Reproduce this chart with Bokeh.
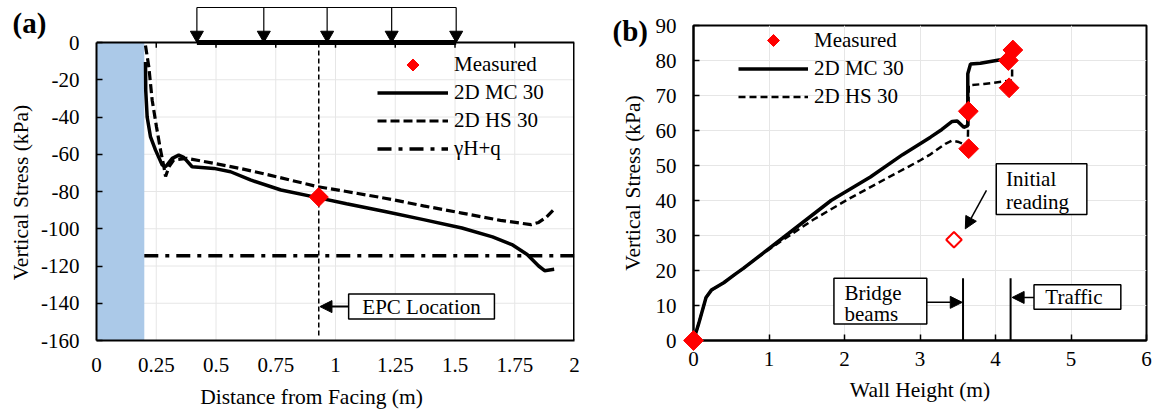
import numpy as np
from bokeh.plotting import figure
from bokeh.layouts import row
from bokeh.models import (Range1d, Legend, LegendItem, Arrow, NormalHead, FixedTicker)
from bokeh.core.properties import value
from bokeh.embed import file_html
from bokeh.resources import INLINE

FONT = "Liberation Serif, serif"
FONT_V = value(FONT)

# ---------------- data: panel (a) ----------------
x_ticks_a = [0, 0.25, 0.5, 0.75, 1, 1.25, 1.5, 1.75, 2]
x_tick_labels_a = ["0", "0.25", "0.5", "0.75", "1", "1.25", "1.5", "1.75", "2"]
y_ticks_a = [-160, -140, -120, -100, -80, -60, -40, -20, 0]
y_tick_labels_a = ["-160", "-140", "-120", "-100", "-80", "-60", "-40", "-20", "0"]

mc_a_x = [0.205, 0.206, 0.212, 0.226, 0.247, 0.275, 0.289, 0.317, 0.344, 0.365, 0.400,
          0.491, 0.561, 0.644, 0.772, 0.925, 1.046, 1.207, 1.368, 1.529, 1.657, 1.738,
          1.802, 1.850, 1.875, 1.915]
mc_a_y = [-10.5, -25.7, -40.0, -50.7, -57.8, -65.8, -66.7, -62.2, -60.5, -61.7, -66.7,
          -67.6, -69.4, -73.8, -79.2, -83.3, -86.6, -90.7, -95.1, -99.6, -104.4, -108.5,
          -113.8, -120.0, -122.5, -121.8]
hs_a_x = [0.205, 0.219, 0.233, 0.251, 0.268, 0.282, 0.289, 0.303, 0.323, 0.379, 0.491,
          0.600, 0.724, 0.925, 1.046, 1.207, 1.368, 1.529, 1.690, 1.818, 1.850, 1.883, 1.915]
hs_a_y = [-1.6, -13.2, -31.0, -45.3, -57.8, -66.7, -72.0, -66.7, -63.1, -62.2, -64.9,
          -67.6, -71.2, -77.4, -80.0, -83.6, -87.7, -91.6, -95.5, -97.8, -96.6, -93.7, -89.5]
meas_a_x = [0.93]
meas_a_y = [-83.0]
gamma_x = [0.2, 2.0]
gamma_y = [-114.5, -114.5]
wall_x = [0.0, 0.2]
epc_x = 0.93
load_x = [0.42, 0.70, 0.965, 1.235, 1.505]

# ---------------- data: panel (b) ----------------
x_ticks_b = [0, 1, 2, 3, 4, 5, 6]
y_ticks_b = [0, 10, 20, 30, 40, 50, 60, 70, 80, 90]

mc_b_x = [0.0, 0.07, 0.166, 0.237, 0.40, 0.544, 0.66, 0.828, 1.254, 1.822, 2.343, 2.769,
          3.139, 3.29, 3.426, 3.493, 3.58, 3.633, 3.633, 3.669, 3.80, 4.066, 4.22]
mc_b_y = [0.0, 4.9, 12.3, 14.4, 16.5, 18.8, 20.6, 23.4, 30.5, 40.0, 46.7, 53.1,
          58.1, 60.3, 62.6, 62.7, 60.9, 61.4, 76.2, 79.0, 79.2, 80.2, 81.0]
hs_b_x = [0.0, 0.07, 0.166, 0.237, 0.40, 0.544, 0.66, 0.828, 1.065, 1.585, 2.06, 2.53,
          3.005, 3.139, 3.336, 3.426, 3.514, 3.633, 3.646, 3.846, 4.22, 4.22]
hs_b_y = [0.0, 4.9, 12.3, 14.4, 16.5, 18.8, 20.6, 23.4, 27.0, 34.5, 40.5, 46.0,
          51.5, 53.2, 56.2, 57.1, 56.7, 55.7, 72.9, 73.3, 74.3, 78.1]
meas_b_x = [0.0, 3.64, 3.645, 4.17, 4.23, 4.18]
meas_b_y = [0.0, 65.5, 54.8, 80.0, 83.0, 72.2]
init_x = [3.45]
init_y = [28.8]
bridge_x = 3.57
traffic_x = 4.20
marker_top = 17.8

# ---------------- layout constants ----------------
BORDER_TOP, BORDER_BOTTOM, HEIGHT = 25, 74, 414
FRAME_BOTTOM = HEIGHT - BORDER_BOTTOM                   # 340
A_LEFT, A_PX_X = 96, 239.0                             # (a) frame left px, px per metre
A_ZERO_PX = 42                                         # screen y of the value 0 in (a)
A_PX_PER_UNIT = (FRAME_BOTTOM - A_ZERO_PX) / 160.0
A_TOP = (A_ZERO_PX - BORDER_TOP) / A_PX_PER_UNIT
B_LEFT, B_PX_X, B_PX_Y = 693, 75.5, 3.5


def ax_(px):      # screen x -> data x in (a)
    return (px - A_LEFT) / A_PX_X


def ay_(py):      # screen y -> data y in (a)
    return (A_ZERO_PX - py) / A_PX_PER_UNIT


def style_axis(ax, label):
    ax.axis_label = label
    ax.axis_label_text_font = FONT
    ax.axis_label_text_font_size = "21.5px"
    ax.axis_label_text_font_style = "normal"
    ax.axis_label_text_color = "black"
    ax.major_label_text_font = FONT
    ax.major_label_text_font_size = "21px"
    ax.major_label_text_color = "black"
    ax.axis_line_color = "black"
    ax.axis_line_width = 2
    ax.major_tick_line_color = "black"
    ax.major_tick_line_width = 1.5
    ax.minor_tick_line_color = None


def text(p, x, y, s, align="left", size="21px", style="normal", level="glyph", angle=0.0):
    p.text(x=[x], y=[y], text=[s], text_font=FONT_V, text_font_size=size,
           text_align=align, text_baseline="middle", text_color="black",
           text_font_style=style, level=level, angle=angle)


def make_legend(p, items, loc, w):
    leg = Legend(items=items, location=loc, glyph_width=w, glyph_height=27, label_height=27,
                 spacing=1, padding=0, margin=0, label_standoff=6,
                 border_line_color=None, background_fill_alpha=0,
                 label_text_font=FONT, label_text_font_size="21px", label_text_color="black")
    p.add_layout(leg)


# ================= panel (a) =================
pa = figure(width=593, height=HEIGHT, x_range=Range1d(0, 2.0), y_range=Range1d(-160, A_TOP),
            output_backend="svg", toolbar_location=None, title=None,
            min_border_left=A_LEFT, min_border_right=19, min_border_top=BORDER_TOP,
            min_border_bottom=BORDER_BOTTOM)
pa.outline_line_color = None
pa.grid.visible = False

gx = x_ticks_a[1:-1]
gy = y_ticks_a[1:-1]
pa.segment(x0=gx, y0=[y_ticks_a[0]] * len(gx), x1=gx, y1=[y_ticks_a[-1]] * len(gx),
           line_color="#e6e6e6", line_width=1)
pa.segment(x0=[x_ticks_a[0]] * len(gy), y0=gy, x1=[x_ticks_a[-1]] * len(gy), y1=gy,
           line_color="#e6e6e6", line_width=1)

pa.quad(left=[wall_x[0]], right=[wall_x[1]], bottom=[y_ticks_a[0]], top=[y_ticks_a[-1]],
        fill_color="#abc9e8", line_color=None)

pa.line([x_ticks_a[-1], x_ticks_a[-1]], [y_ticks_a[0], y_ticks_a[-1]], line_color="black", line_width=3)
pa.line([x_ticks_a[0], x_ticks_a[-1]], [y_ticks_a[-1], y_ticks_a[-1]], line_color="black", line_width=2)
pa.segment(x0=gx, y0=[0] * len(gx), x1=gx, y1=[-2.8] * len(gx), line_color="black", line_width=1.5)

r_gamma = pa.line(gamma_x, gamma_y, line_color="black", line_width=3.5, line_dash="14 7 4 7")
pa.line([epc_x, epc_x], [0, -158], line_color="black", line_width=1.5, line_dash="5 3")
r_hs_a = pa.line(hs_a_x, hs_a_y, line_color="black", line_width=3.2, line_dash="9 4")
r_mc_a = pa.line(mc_a_x, mc_a_y, line_color="black", line_width=3.5)
pa.scatter(meas_a_x, meas_a_y, marker="square", angle=np.pi / 4, size=13.5,
           fill_color="red", line_color="red")

# surcharge load (drawn above the frame, not clipped)
load_top = ay_(7)
HEAD = 13
pa.line([load_x[0], load_x[-1]], [0, 0], line_color="black", line_width=5, level="overlay")
pa.line([load_x[0], load_x[-1]], [load_top, load_top], line_color="black", line_width=1.2,
        level="overlay")
pa.segment(x0=load_x, y0=[load_top] * len(load_x), x1=load_x, y1=[0] * len(load_x),
           line_color="black", line_width=1.2, level="overlay")
pa.scatter(load_x, [HEAD * 0.577 / A_PX_PER_UNIT] * len(load_x), marker="inverted_triangle",
           size=HEAD, fill_color="black", line_color="black", level="overlay")

# EPC callout
pa.quad(left=[1.055], right=[1.665], top=[-135], bottom=[-148.5], fill_color="white",
        line_color="black", line_width=1.5)
text(pa, 1.36, -141.8, "EPC Location", align="center")
pa.add_layout(Arrow(end=NormalHead(size=12, fill_color="black", line_color="black"),
                    x_start=1.055, y_start=-141.8, x_end=0.935, y_end=-141.8,
                    line_color="black", line_width=2))

pa.xaxis.ticker = FixedTicker(ticks=x_ticks_a)
pa.xaxis.major_label_overrides = dict(zip(x_ticks_a, x_tick_labels_a))
pa.yaxis.ticker = FixedTicker(ticks=y_ticks_a)
pa.yaxis.major_label_overrides = dict(zip(y_ticks_a, y_tick_labels_a))
pa.yaxis.bounds = (y_ticks_a[0], y_ticks_a[-1])
style_axis(pa.xaxis[0], None)
style_axis(pa.yaxis[0], None)
pa.xaxis.major_tick_line_color = None
pa.xaxis.major_label_standoff = 11
pa.yaxis.major_tick_in = 6
pa.yaxis.major_tick_out = 0
pa.yaxis.major_label_standoff = 17
# axis titles of (a) placed as in the reference (x title sits left of centre)
text(pa, ax_(311), ay_(396), "Distance from Facing (m)", align="center", size="21.5px",
     level="overlay")
text(pa, ax_(20), ay_(192), "Vertical Stress (kPa)", align="center", size="21.5px",
     level="overlay", angle=np.pi / 2)

dummy_a = pa.scatter([], [], marker="square", fill_alpha=0, line_alpha=0)
make_legend(pa, [LegendItem(label="Measured", renderers=[dummy_a]),
                 LegendItem(label="2D MC 30", renderers=[r_mc_a]),
                 LegendItem(label="2D HS 30", renderers=[r_hs_a]),
                 LegendItem(label="\u03b3H+q", renderers=[r_gamma])],
            (377 - A_LEFT, FRAME_BOTTOM - (51 + 4 * 27 + 3)), 71)
pa.scatter([ax_(377 + 35.5)], [ay_(64.5)], marker="square",
           angle=np.pi / 4, size=8.5, fill_color="red", line_color="red", level="overlay")
text(pa, ax_(12), ay_(22), "(a)", size="29px", style="bold", level="overlay")

# ================= panel (b) =================
pb = figure(width=562, height=HEIGHT, x_range=Range1d(0, 6), y_range=Range1d(0, 90),
            output_backend="svg", toolbar_location=None, title=None,
            min_border_left=100, min_border_right=9, min_border_top=BORDER_TOP,
            min_border_bottom=BORDER_BOTTOM)
pb.outline_line_color = "black"
pb.outline_line_width = 2
pb.grid.grid_line_color = "#e6e6e6"
pb.xaxis.ticker = FixedTicker(ticks=x_ticks_b)
pb.yaxis.ticker = FixedTicker(ticks=y_ticks_b)
style_axis(pb.xaxis[0], "Wall Height (m)")
style_axis(pb.yaxis[0], "Vertical Stress (kPa)")
for ax in (pb.xaxis[0], pb.yaxis[0]):
    ax.major_tick_in = 6
    ax.major_tick_out = 0
pb.xaxis.major_label_standoff = 11
pb.xaxis.axis_label_standoff = 9
pb.yaxis.major_label_standoff = 17
pb.yaxis.axis_label_standoff = 8

pb.segment(x0=[bridge_x, traffic_x], y0=[0, 0], x1=[bridge_x, traffic_x], y1=[marker_top, marker_top],
           line_color="black", line_width=2)

r_hs_b = pb.line(hs_b_x, hs_b_y, line_color="black", line_width=2.5, line_dash="7 4")
r_mc_b = pb.line(mc_b_x, mc_b_y, line_color="black", line_width=3.5)
pb.scatter(meas_b_x, meas_b_y, marker="square", angle=np.pi / 4, size=14,
           fill_color="red", line_color="red", level="overlay")
pb.scatter(init_x, init_y, marker="square", angle=np.pi / 4, size=11,
           fill_color="white", line_color="red", line_width=2)

pb.quad(left=[1.86, 4.51, 4.01], right=[3.09, 5.66, 5.21], bottom=[4.7, 8.9, 36.0],
        top=[17.8, 15.9, 50.5], fill_color="white", line_color="black", line_width=1.5)
text(pb, 2.0, 13.7, "Bridge")
text(pb, 2.0, 7.6, "beams")
text(pb, 4.66, 12.3, "Traffic")
text(pb, 4.14, 46.2, "Initial")
text(pb, 4.14, 39.7, "reading")
for (xs, ys, xe, ye) in [(3.09, 10.9, 3.56, 10.9), (4.51, 12.3, 4.22, 12.3), (3.88, 42.9, 3.6, 31.9)]:
    pb.add_layout(Arrow(end=NormalHead(size=12, fill_color="black", line_color="black"),
                        x_start=xs, y_start=ys, x_end=xe, y_end=ye,
                        line_color="black", line_width=1.5))

dummy_b = pb.scatter([], [], marker="square", fill_alpha=0, line_alpha=0)
make_legend(pb, [LegendItem(label="Measured", renderers=[dummy_b]),
                 LegendItem(label="2D MC 30", renderers=[r_mc_b]),
                 LegendItem(label="2D HS 30", renderers=[r_hs_b])],
            (738 - B_LEFT, FRAME_BOTTOM - (26.5 + 3 * 27 + 2)), 70)
pb.scatter([(738 + 35 - B_LEFT) / B_PX_X], [(FRAME_BOTTOM - 40) / B_PX_Y], marker="square",
           angle=np.pi / 4, size=8.5, fill_color="red", line_color="red", level="overlay")
text(pb, (612 - B_LEFT) / B_PX_X, (FRAME_BOTTOM - 30) / B_PX_Y, "(b)", size="29px",
     style="bold", level="overlay")

layout = row(pa, pb)
open("out.html", "w").write(file_html(layout, INLINE))
